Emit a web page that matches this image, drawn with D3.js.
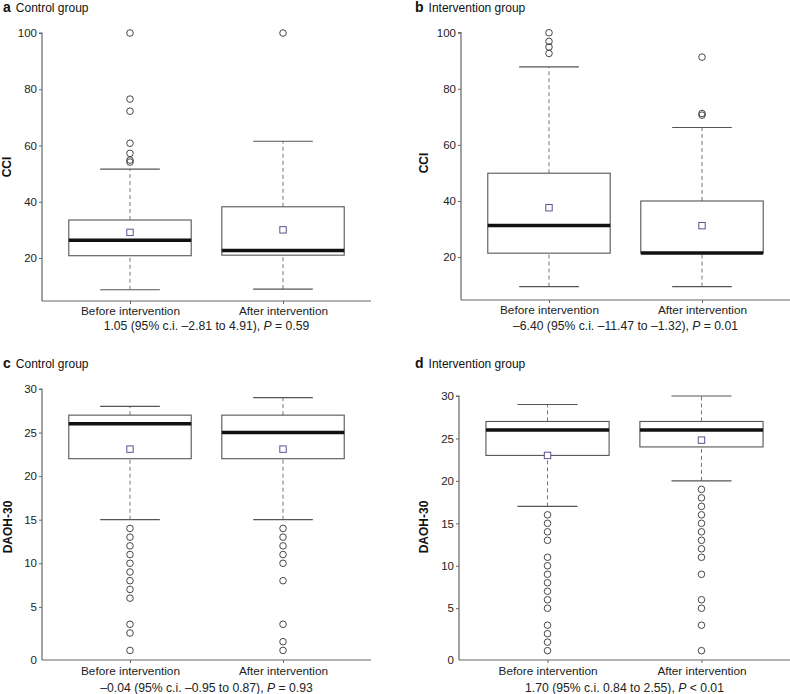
<!DOCTYPE html>
<html>
<head>
<meta charset="utf-8">
<script src="https://cdn.jsdelivr.net/npm/d3@7"></script>
<style>
  html, body { margin: 0; padding: 0; background: #fff; }
  svg { display: block; font-family: "Liberation Sans", Arial, Helvetica, sans-serif; }
</style>
</head>
<body>
<svg id="chart" width="790" height="694"></svg>
<script>
// ---------------- DATA ----------------
const categories = ["Before intervention", "After intervention"];

// box stats: [lower whisker, Q1, median, Q3, upper whisker]
// Panel a: CCI, control group
const aBoxBefore = [8.7, 20.8, 26.3, 33.5, 51.6];
const aBoxAfter  = [8.9, 21.0, 22.7, 38.2, 61.5];
const aMeans = [29.1, 30.0];
const aOutBefore = [100, 76.5, 72.2, 60.8, 57.2, 54.8, 54.1];
const aOutAfter  = [100];

// Panel b: CCI, intervention group
const bBoxBefore = [9.5, 21.4, 31.3, 49.9, 87.8];
const bBoxAfter  = [9.5, 21.5, 21.5, 40.0, 66.2];
const bMeans = [37.6, 31.2];
const bOutBefore = [100, 96.9, 94.9, 92.6];
const bOutAfter  = [91.3, 71.2, 70.6];

// Panel c: DAOH-30, control group
const cBoxBefore = [15, 22, 26, 27, 28];
const cBoxAfter  = [15, 22, 25, 27, 29];
const cMeans = [23.1, 23.1];
const cOutBefore = [14, 13, 12, 11, 10, 9, 8, 7, 6, 3, 2, 0];
const cOutAfter  = [14, 13, 12, 11, 10, 8, 3, 1, 0];

// Panel d: DAOH-30, intervention group
const dBoxBefore = [17, 23, 26, 27, 29];
const dBoxAfter  = [20, 24, 26, 27, 30];
const dMeans = [23.0, 24.8];
const dOutBefore = [16, 15, 14, 13, 11, 10, 9, 8, 7, 6, 5, 3, 2, 1, 0];
const dOutAfter  = [19, 18, 17, 16, 15, 14, 13, 12, 11, 9, 6, 5, 3, 0];

// axis ticks
const cciTicks = [20, 40, 60, 80, 100];
const cciDomain = [4.7, 100];
const daohTicks = [5, 10, 15, 20, 25, 30];
const daohDomain = [-1.1, 30];
const daohBaseLabel = "0";

// titles / labels
const panelLetters = ["a", "b", "c", "d"];
const panelTitles = ["Control group", "Intervention group", "Control group", "Intervention group"];
const yLabels = ["CCI", "CCI", "DAOH-30", "DAOH-30"];
const captionMain = [
  "1.05 (95% c.i. \u20132.81 to 4.91), ",
  "\u20136.40 (95% c.i. \u201311.47 to \u20131.32), ",
  "\u20130.04 (95% c.i. \u20130.95 to 0.87), ",
  "1.70 (95% c.i. 0.84 to 2.55), "
];
const captionP = [" = 0.59", " = 0.01", " = 0.93", " < 0.01"];

// ---------------- LAYOUT ----------------
const layout = [
  { x0: 42,  x1: 371, yTop: 33,  yBot: 301, titleX: 3,   titleY: 11.5, labX: 10.5, labY: 167, catY: 314.5, capY: 330 },
  { x0: 461, x1: 790, yTop: 32.7,yBot: 300, titleX: 415, titleY: 11.5, labX: 428,  labY: 163, catY: 314,   capY: 329.5 },
  { x0: 42,  x1: 371, yTop: 389, yBot: 660, titleX: 3,   titleY: 368,  labX: 12,   labY: 527, catY: 674.5, capY: 692 },
  { x0: 459, x1: 790, yTop: 396, yBot: 660, titleX: 415, titleY: 368,  labX: 428,  labY: 527, catY: 674.5, capY: 692 }
];

const panelsData = [
  { boxes: [aBoxBefore, aBoxAfter], means: aMeans, outs: [aOutBefore, aOutAfter], domain: cciDomain, ticks: cciTicks, base: null },
  { boxes: [bBoxBefore, bBoxAfter], means: bMeans, outs: [bOutBefore, bOutAfter], domain: cciDomain, ticks: cciTicks, base: null },
  { boxes: [cBoxBefore, cBoxAfter], means: cMeans, outs: [cOutBefore, cOutAfter], domain: daohDomain, ticks: daohTicks, base: daohBaseLabel },
  { boxes: [dBoxBefore, dBoxAfter], means: dMeans, outs: [dOutBefore, dOutAfter], domain: daohDomain, ticks: daohTicks, base: daohBaseLabel }
];

const svg = d3.select("#chart");
const axisColor = "#666";
const boxColor = "#555";

panelsData.forEach((p, i) => {
  const L = layout[i];
  const g = svg.append("g");

  const y = d3.scaleLinear().domain(p.domain).range([L.yBot, L.yTop]);
  const x = d3.scalePoint().domain(categories).range([L.x0, L.x1]).padding(0.575);
  const step = x.step();
  const boxW = step * 0.8;
  const capW = step * 0.39;

  // y axis
  const tv = p.base !== null ? [p.domain[0]].concat(p.ticks) : p.ticks;
  const yAxis = d3.axisLeft(y).tickValues(tv).tickSize(3).tickPadding(2)
    .tickFormat(v => (p.base !== null && v === p.domain[0]) ? p.base : d3.format("d")(v));
  const yg = g.append("g").attr("transform", `translate(${L.x0},0)`).call(yAxis);
  yg.select(".domain").attr("d", `M-3,${L.yTop}H0V${L.yBot}`);
  if (p.base !== null) {
    yg.selectAll(".tick").filter(v => v === p.domain[0]).select("line").remove();
  }
  // x axis
  const xAxis = d3.axisBottom(x).tickSize(3).tickPadding(4);
  const xg = g.append("g").attr("transform", `translate(0,${L.yBot})`).call(xAxis);
  xg.select(".domain").attr("d", `M${L.x0},0H${L.x1}`);
  xg.selectAll("text").attr("dy", null).attr("y", L.catY - L.yBot);

  [yg, xg].forEach(ax => {
    ax.select(".domain").attr("stroke", axisColor).attr("stroke-width", 1.2);
    ax.selectAll(".tick line").attr("stroke", axisColor).attr("stroke-width", 1);
    ax.selectAll(".tick text").attr("fill", "#222").attr("font-size", "11.8px")
      .attr("font-family", "'Liberation Sans', Arial, sans-serif");
  });
  yg.selectAll(".tick text").attr("font-size", "11.5px");

  // boxes
  categories.forEach((c, k) => {
    const b = p.boxes[k];
    const cx = x(c);
    // whiskers (dashed)
    g.append("line").attr("x1", cx).attr("x2", cx).attr("y1", y(b[0])).attr("y2", y(b[1]))
      .attr("stroke", "#777").attr("stroke-width", 1).attr("stroke-dasharray", "4,3");
    g.append("line").attr("x1", cx).attr("x2", cx).attr("y1", y(b[3])).attr("y2", y(b[4]))
      .attr("stroke", "#777").attr("stroke-width", 1).attr("stroke-dasharray", "4,3");
    // caps
    [b[0], b[4]].forEach(v => {
      g.append("line").attr("x1", cx - capW / 2).attr("x2", cx + capW / 2)
        .attr("y1", y(v)).attr("y2", y(v)).attr("stroke", "#555").attr("stroke-width", 1.2);
    });
    // box
    g.append("rect").attr("x", cx - boxW / 2).attr("width", boxW)
      .attr("y", y(b[3])).attr("height", y(b[1]) - y(b[3]))
      .attr("fill", "#fff").attr("stroke", boxColor).attr("stroke-width", 1.1);
    // median
    g.append("line").attr("x1", cx - boxW / 2).attr("x2", cx + boxW / 2)
      .attr("y1", y(b[2])).attr("y2", y(b[2])).attr("stroke", "#111").attr("stroke-width", 3.5);
    // mean
    const m = p.means[k];
    g.append("rect").attr("x", cx - 3.2).attr("y", y(m) - 3.2).attr("width", 6.4).attr("height", 6.4)
      .attr("fill", "#fff").attr("stroke", "#5d5190").attr("stroke-width", 1);
    // outliers
    g.selectAll(null).data(p.outs[k]).enter().append("circle")
      .attr("cx", cx).attr("cy", v => y(v)).attr("r", 3.3)
      .attr("fill", "none").attr("stroke", "#333").attr("stroke-width", 0.9);
  });

  // title
  const t = g.append("text").attr("x", L.titleX).attr("y", L.titleY).attr("fill", "#111");
  t.append("tspan").attr("font-weight", "bold").attr("font-size", "14px").text(panelLetters[i]);
  t.append("tspan").attr("dx", 5).attr("font-size", "12px").text(panelTitles[i]);

  // y label
  g.append("text").attr("transform", `translate(${L.labX},${L.labY}) rotate(-90)`)
    .attr("text-anchor", "middle").attr("font-weight", "bold").attr("font-size", "12px")
    .attr("fill", "#111").text(yLabels[i]);

  // caption
  const cap = g.append("text").attr("x", (L.x0 + L.x1) / 2).attr("y", L.capY)
    .attr("text-anchor", "middle").attr("font-size", "12.2px").attr("fill", "#222");
  cap.append("tspan").text(captionMain[i]);
  cap.append("tspan").attr("font-style", "italic").text("P");
  cap.append("tspan").text(captionP[i]);
});
</script>
</body>
</html>
